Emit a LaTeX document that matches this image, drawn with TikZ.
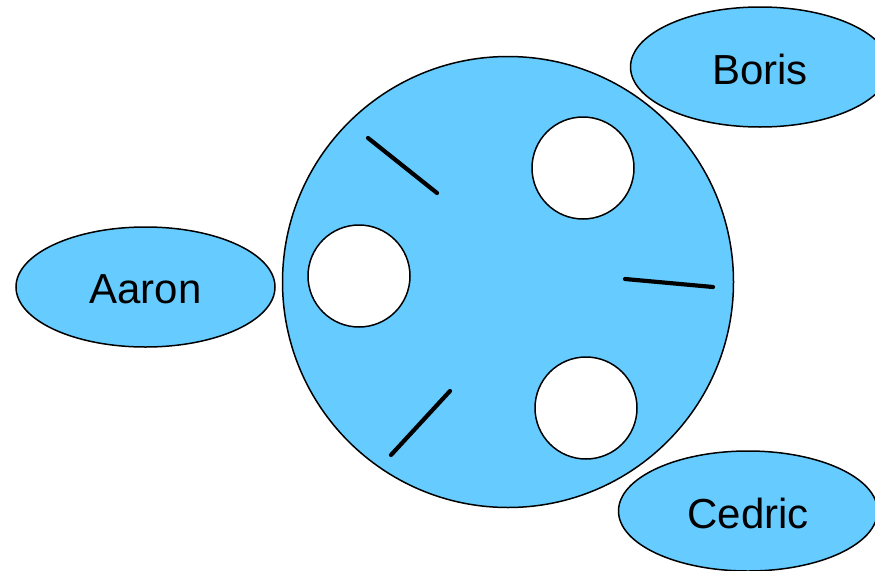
\documentclass[tikz,border=0pt]{standalone}
\usepackage{fontspec}
\setmainfont{Liberation Sans}
\usetikzlibrary{shapes.geometric}
\definecolor{fillblue}{HTML}{66CCFF}
\newcommand{\lowtext}[1]{\raisebox{-2pt}[\height][\depth]{#1}}
\begin{document}
\begin{tikzpicture}[x=1pt,y=-1pt,
  blob/.style={ellipse,draw=black,line width=1.5pt,fill=fillblue,inner sep=0pt,
    minimum width=259pt,minimum height=120pt,font=\fontsize{42}{50}\selectfont},
  hole/.style={circle,draw=black,line width=1.5pt,fill=white,inner sep=0pt,minimum size=102pt},
  bar/.style={line width=4.2pt,line cap=round}]
\useasboundingbox (0,0) rectangle (875,570);
\clip (0,0) rectangle (875,570);
\node[circle,draw=black,line width=1.5pt,fill=fillblue,inner sep=0pt,minimum size=451pt] (wheel) at (508,282) {};
\node[hole] (h1) at (583,168) {};
\node[hole] (h2) at (359,276) {};
\node[hole] (h3) at (586,408) {};
\coordinate (l1a) at (368,138); \coordinate (l1b) at (437,193);
\coordinate (l2a) at (625,279); \coordinate (l2b) at (713,287);
\coordinate (l3a) at (391,455); \coordinate (l3b) at (450,391);
\draw[bar] (l1a) -- (l1b);
\draw[bar] (l2a) -- (l2b);
\draw[bar] (l3a) -- (l3b);
\node[blob] (aaron) at (145.5,287) {\lowtext{Aaron}};
\node[blob] (boris) at (760,67) {\lowtext{Boris}};
\node[blob] (cedric) at (748,511) {\lowtext{Cedric}};
\end{tikzpicture}
\end{document}
